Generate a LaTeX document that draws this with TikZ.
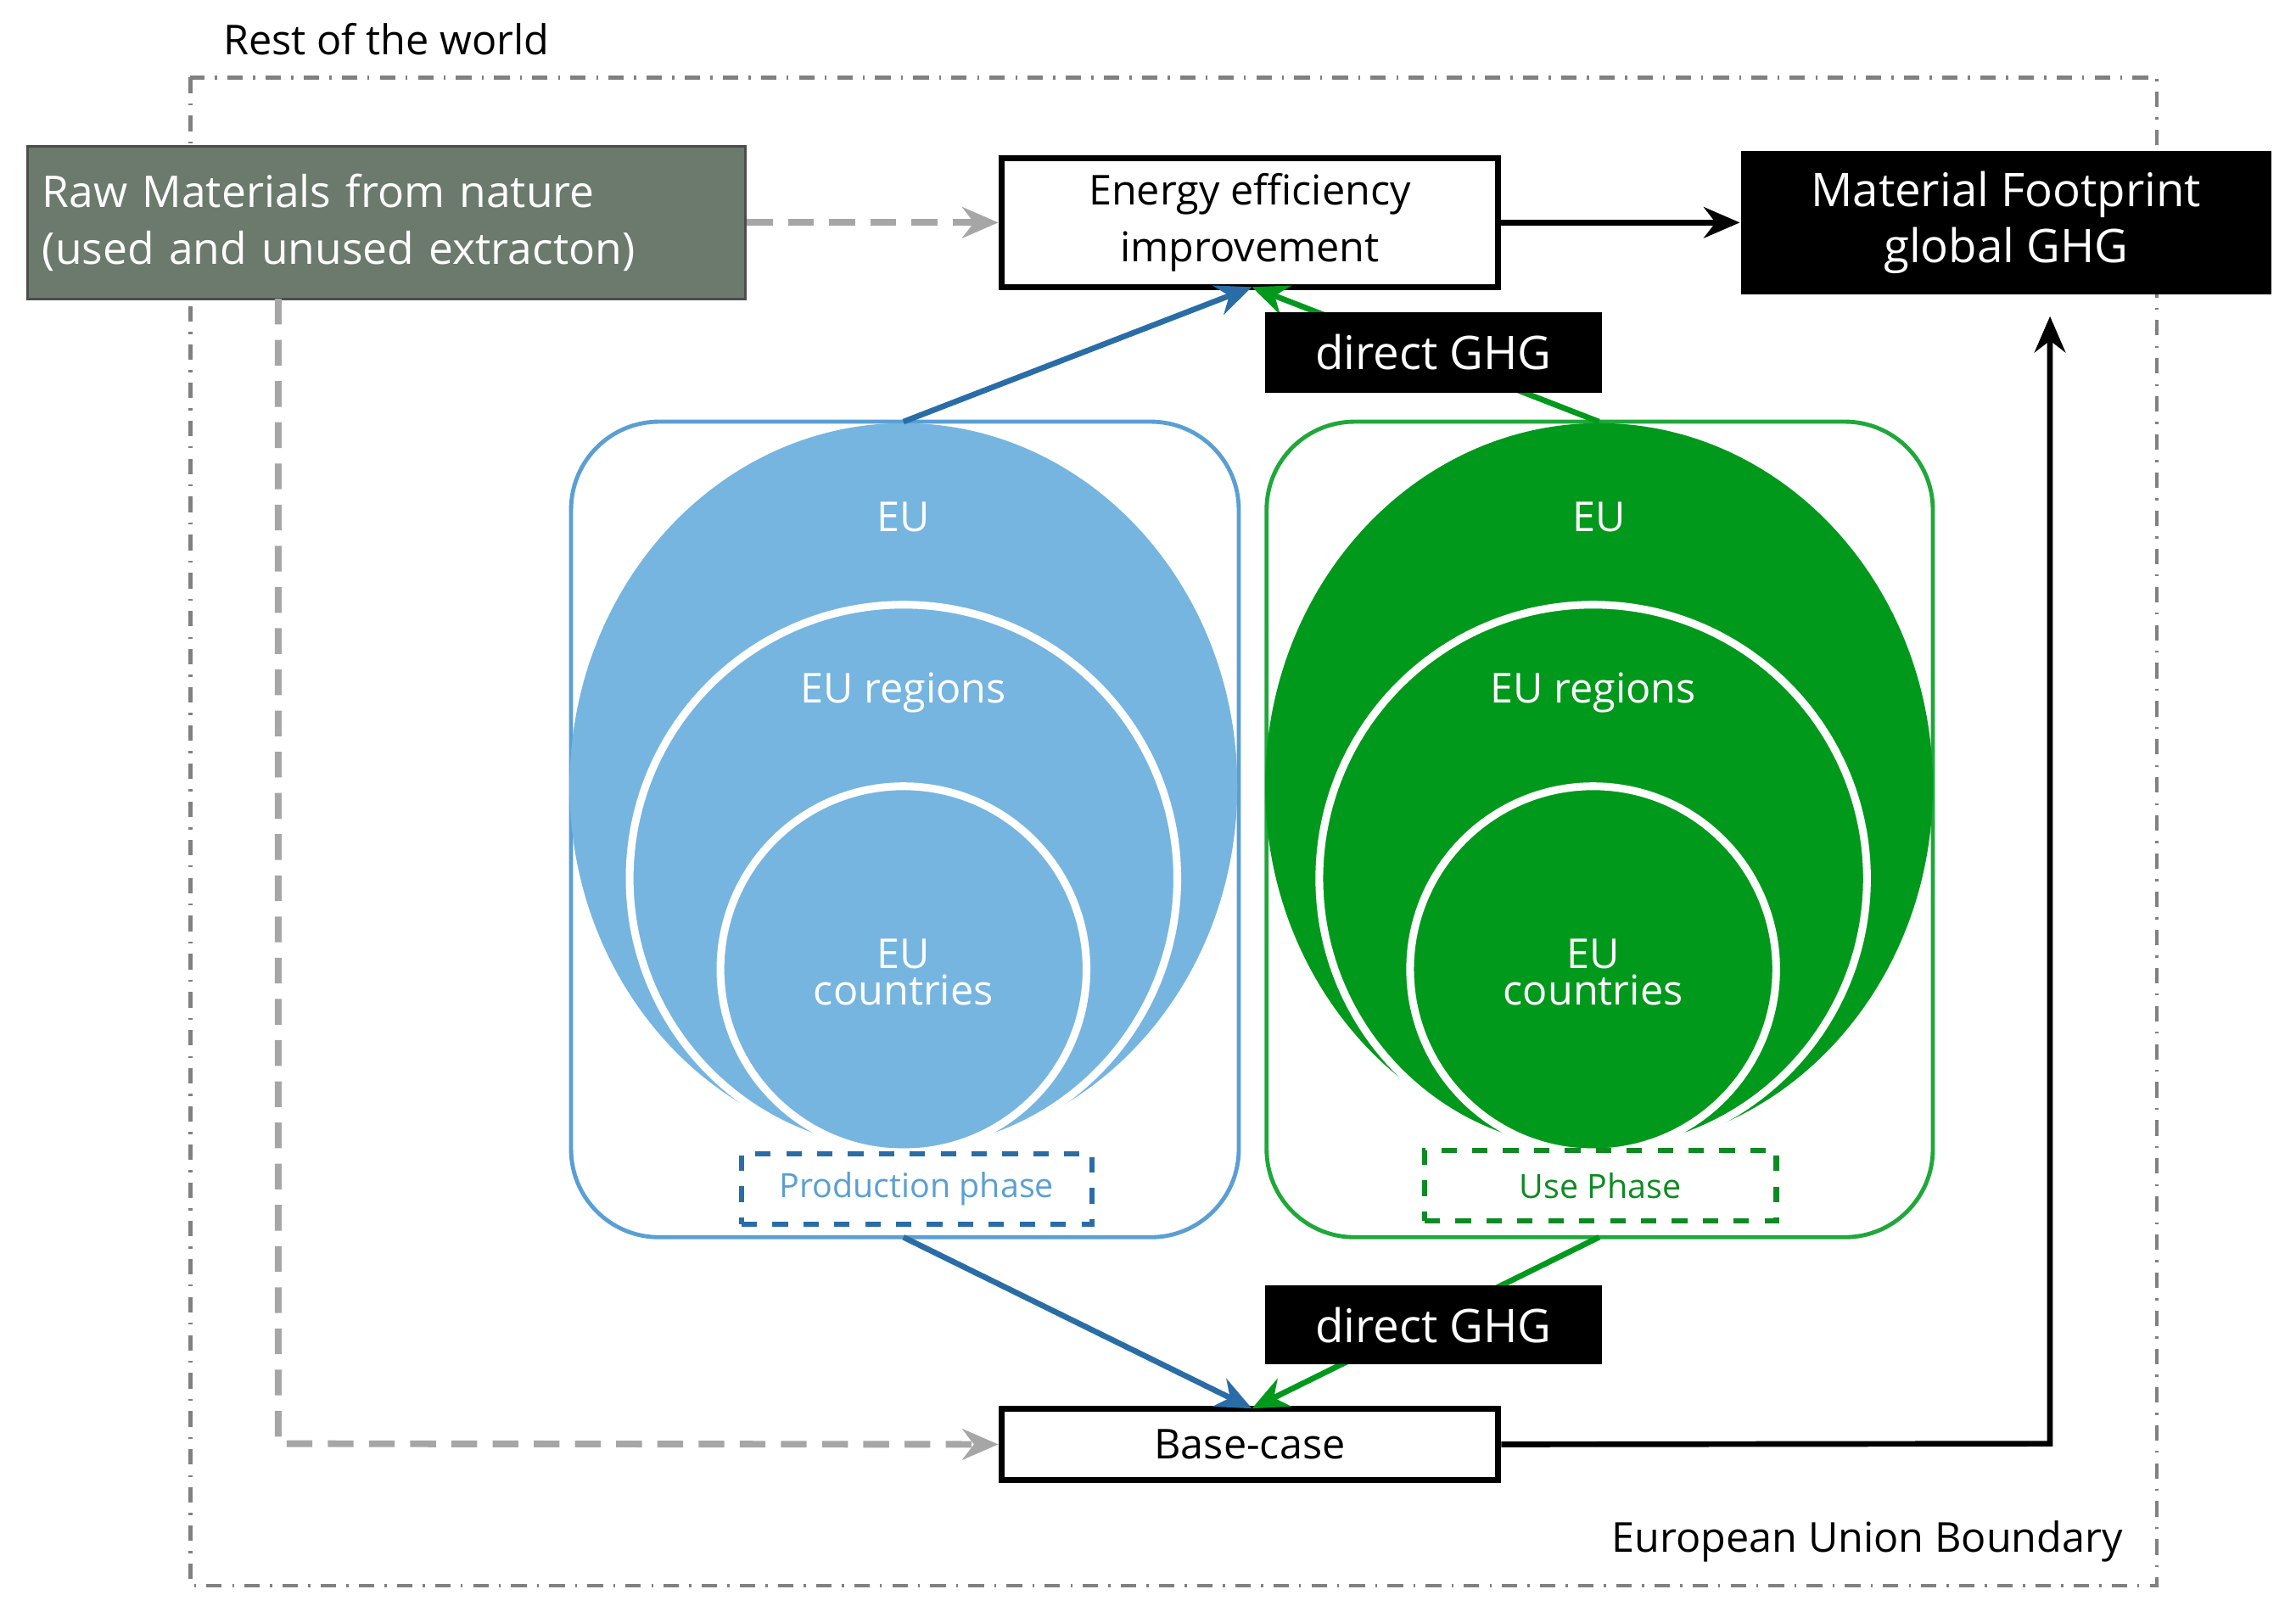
\documentclass[tikz,border=0pt]{standalone}
\usepackage{fontspec}
\setmainfont{Open Sans}
\usetikzlibrary{arrows.meta}
\definecolor{rawg}{HTML}{6B7A6C}
\definecolor{bfill}{HTML}{76B5E0}
\definecolor{bline}{HTML}{5A9FD4}
\definecolor{barr}{HTML}{2A6DA6}
\definecolor{gfill}{HTML}{00991C}
\definecolor{gline}{HTML}{1FA83A}
\definecolor{gtext}{HTML}{0E8A22}
\begin{document}
\begin{tikzpicture}[x=0.01cm,y=-0.01cm,
  lbl/.style={font=\fontsize{8}{10}\selectfont},
  box/.style={draw=black,line width=1.2pt,fill=white,font=\fontsize{8}{11}\selectfont,align=center,inner sep=0pt},
  blk/.style={fill=black,text=white,font=\fontsize{9}{11}\selectfont,align=center,inner sep=0pt},
  arr/.style={-{Stealth[length=7pt,width=6pt]},line width=1.1pt},
  garr/.style={-{Stealth[length=7pt,width=6pt]},line width=1.3pt,draw=gray!70,dash pattern=on 5pt off 3pt},
  phase/.style={draw,dashed,line width=1pt,fill=white,font=\fontsize{6.5}{8}\selectfont,inner sep=0pt},
  wc/.style={draw=white,line width=1.5pt}]
\useasboundingbox (0,0) rectangle (1568,1108);
\draw[gray,dash dot,line width=0.8pt] (130,53) rectangle (1473,1083);
\node[lbl,anchor=west] (rw) at (140,27) {Rest of the world};
\node[lbl,anchor=east] (eub) at (1462,1053) {European Union Boundary};
% containers
\draw[bline,line width=0.8pt,rounded corners=0.6cm] (390,288) rectangle (846,845);
\draw[gline,line width=0.8pt,rounded corners=0.6cm] (865,288) rectangle (1320,845);
\fill[bfill] (617,537) ellipse (228 and 248);
\draw[wc] (617,600) circle (187);
\draw[wc] (617,662) circle (125);
\fill[gfill] (1092,537) ellipse (228 and 248);
\draw[wc] (1088,600) circle (187);
\draw[wc] (1088,662) circle (125);
\node[white,lbl] (eu1) at (617,353) {EU};
\node[white,lbl] (eur1) at (617,473) {EU regions};
\node[white,lbl,align=center] (euc1) at (617,664) {EU\\[-3pt]countries};
\node[white,lbl] (eu2) at (1092,353) {EU};
\node[white,lbl] (eur2) at (1088,473) {EU regions};
\node[white,lbl,align=center] (euc2) at (1088,664) {EU\\[-3pt]countries};
\node[phase,draw=barr,text=bline,minimum width=2.39cm,minimum height=0.48cm] (pp) at (626,812) {Production phase};
\node[phase,draw=gtext,text=gtext,minimum width=2.40cm,minimum height=0.48cm] (up) at (1093,810) {Use Phase};
\coordinate (bt) at (617,288); \coordinate (gt) at (1092,288);
\coordinate (bb) at (617,845); \coordinate (gb) at (1092,845);
% boxes
\node[box,minimum width=3.39cm,minimum height=0.88cm] (ee) at (853.5,152) {Energy efficiency\\improvement};
\node[box,minimum width=3.39cm,minimum height=0.49cm] (bc) at (853.5,986.5) {Base-case};
\coordinate (eeb) at (855,196); \coordinate (bct) at (855,962);
\draw[arr,barr] (bt) -- (eeb);
\draw[arr,gfill] (gt) -- (eeb);
\draw[arr,barr] (bb) -- (bct);
\draw[arr,gfill] (gb) -- (bct);
\node[blk,minimum width=2.30cm,minimum height=0.55cm] (g1) at (979,240.5) {direct GHG};
\node[blk,minimum width=2.30cm,minimum height=0.54cm] (g2) at (979,905) {direct GHG};
\node[fill=rawg,draw=gray!60!black,line width=0.5pt,text=white,font=\fontsize{8.5}{11}\selectfont,align=left,minimum width=4.9cm,minimum height=1.04cm,text width=4.7cm,inner sep=0pt] (raw) at (264,152) {Raw Materials from nature\\(used and unused extracton)};
\node[blk,minimum width=3.62cm,minimum height=0.98cm] (mf) at (1370,152) {Material Footprint\\global GHG};
\draw[arr] (ee.east) -- (mf.west);
\draw[arr] (bc.east) -- (1400,986) -- (1400,216);
\draw[garr] (raw.east) -- (ee.west);
\draw[garr] (190,204) -- (190,986) -- (bc.west);
\end{tikzpicture}
\end{document}
